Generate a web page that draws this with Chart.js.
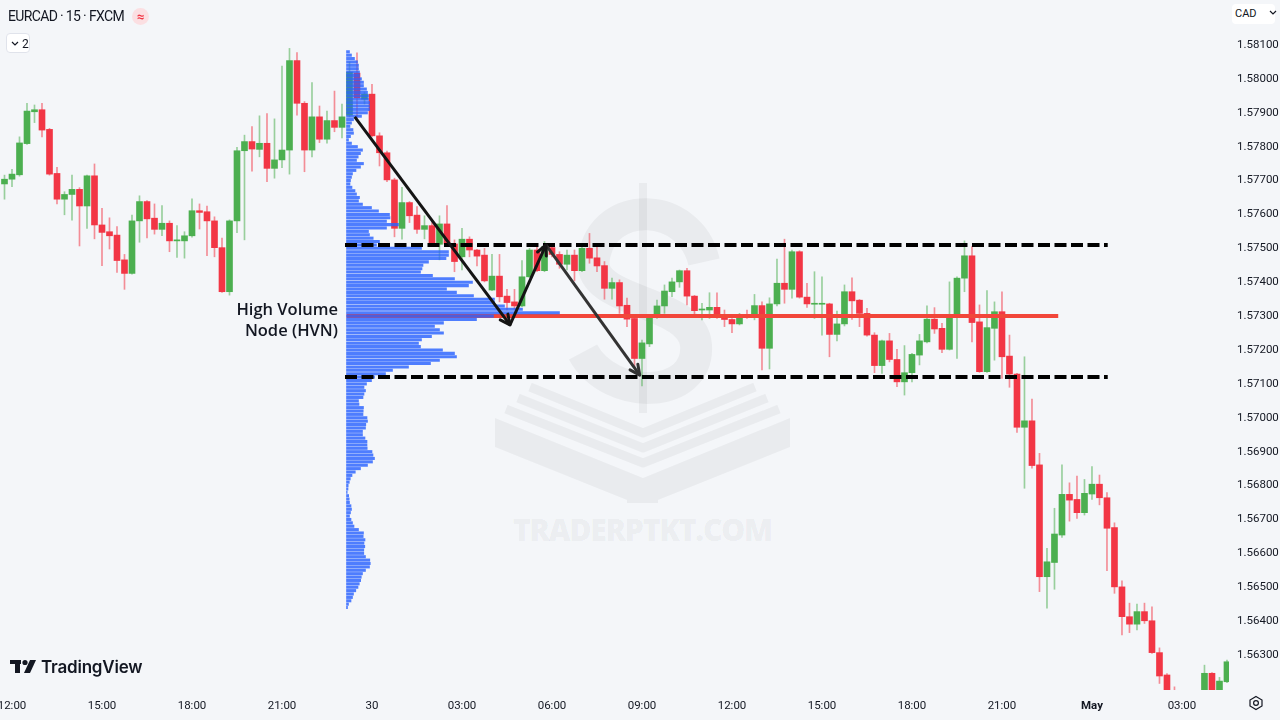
<!DOCTYPE html>
<html>
<head>
<meta charset="utf-8">
<title>EURCAD · 15 · FXCM</title>
<script src="https://cdn.jsdelivr.net/npm/chart.js@4.4.1/dist/chart.umd.min.js"></script>
<style>
  html, body { margin: 0; padding: 0; background: #f4f6f9; }
  #wrap { position: relative; width: 1280px; height: 720px; overflow: hidden; font-family: Roboto, "Noto Sans", sans-serif; color: #131722; }
  #watermark { position: absolute; left: 0; top: 0; z-index: 0; }
  #chart { position: absolute; left: 0; top: 0; z-index: 1; }
  .ov { position: absolute; z-index: 2; white-space: nowrap; }
  #title { left: 8px; top: 8px; font-size: 14px; letter-spacing: -0.65px; }
  #flag { left: 132px; top: 8px; width: 17px; height: 17px; border-radius: 50%; background: #fbdfe2; color: #f23645; font-size: 13px; font-weight: bold; text-align: center; line-height: 17px; }
  #legendBtn { left: 6px; top: 33px; width: 24px; height: 20px; border: 1px solid #e0e3eb; border-radius: 4px; background: #fff; font-size: 12px; line-height: 20px; box-sizing: border-box; padding-left: 4px; }
  #cad { left: 1232px; top: 4px; width: 43px; height: 20px; border-radius: 4px; background: #fff; font-size: 11px; line-height: 20px; padding-left: 3px; box-sizing: border-box; }
  #hvn { left: 200px; top: 298px; width: 138px; text-align: right; font-family: "Open Sans", sans-serif; font-weight: 600; font-size: 16.5px; line-height: 21px; color: #131722; }
  #tvlogo { left: 10px; top: 657px; font-family: Inter, Lato, sans-serif; font-weight: 600; font-size: 17px; letter-spacing: -0.2px; }
</style>
</head>
<body>
<div id="wrap">
  <svg id="watermark" width="1280" height="720">
    <g fill="none" stroke="rgba(0,0,0,0.045)" stroke-linejoin="round">
      <rect x="639" y="183" width="8" height="230" fill="rgba(0,0,0,0.045)" stroke="none"/>
      <path d="M 704 262 C 690 200, 603 198, 594 258 C 586 305, 692 298, 696 345 C 700 400, 610 402, 583 352" stroke-width="32"/>
      <polyline points="530,387 643,433 755,387" stroke-width="9"/>
      <polyline points="518,398 643,448 767,398" stroke-width="9"/>
      <polyline points="506,409 643,463 779,409" stroke-width="9"/>
    </g>
    <polygon points="495,418 643,478 790,418 790,447 658,500 658,503 627,503 627,500 495,447" fill="rgba(0,0,0,0.045)"/>
    <text x="643" y="541" text-anchor="middle" font-family="Open Sans, sans-serif" font-weight="800" font-size="30" textLength="260" fill="rgba(0,0,0,0.055)">TRADERPTKT.COM</text>
  </svg>
  <canvas id="chart" width="1280" height="720"></canvas>

  <div class="ov" id="title">EURCAD · 15 · FXCM</div>
  <div class="ov" id="flag">≈</div>
  <div class="ov" id="legendBtn"><svg width="8" height="6" style="vertical-align:1px"><polyline points="1,1 4,4 7,1" fill="none" stroke="#131722" stroke-width="1.2"/></svg> 2</div>
  <div class="ov" id="cad">CAD <svg width="8" height="6" style="margin-left:10px;vertical-align:1px"><polyline points="1,1 4,4 7,1" fill="none" stroke="#131722" stroke-width="1.2"/></svg></div>
  <div class="ov" id="hvn">High Volume<br>Node (HVN)</div>
  <div class="ov" id="tvlogo">
    <svg width="27" height="15" style="vertical-align:-1px;margin-right:4px">
      <rect x="0" y="1" width="11" height="4" fill="#131722"/>
      <rect x="5" y="1" width="5" height="13" fill="#131722"/>
      <circle cx="15" cy="3.5" r="2.6" fill="#131722"/>
      <polygon points="20,1 26,1 20,14 14,14" fill="#131722"/>
    </svg>TradingView
  </div>
  <svg class="ov" style="left:1248px;top:695px" width="16" height="16">
    <polygon points="8,1.5 14,5 14,11 8,14.5 2,11 2,5" fill="none" stroke="#131722" stroke-width="1.2"/>
    <circle cx="8" cy="8" r="2.4" fill="none" stroke="#131722" stroke-width="1.2"/>
  </svg>
</div>

<script>
// EURCAD 15m candles, index 0 = 29 Apr 11:45
const OPEN = [
  1.57690,1.57704,1.57717,1.57809,1.57903,1.57909,1.57851,1.57721,1.57645,1.57659,
  1.57674,1.57625,1.57714,1.57569,1.57549,1.57539,1.57466,1.57426,1.57581,1.57638,
  1.57589,1.57556,1.57574,1.57522,1.57522,1.57537,1.57611,1.57608,1.57581,1.57502,
  1.57372,1.57581,1.57788,1.57815,1.57792,1.57810,1.57736,1.57761,1.57790,1.58054,
  1.57928,1.57790,1.57888,1.57822,1.57877,1.57857,1.57893,1.58017,1.57940,1.57955,
  1.57832,1.57782,1.57702,1.57559,1.57635,1.57598,1.57556,1.57567,1.57512,1.57572,
  1.57513,1.57475,1.57527,1.57495,1.57480,1.57377,1.57418,1.57359,1.57342,1.57330,
  1.57416,1.57495,1.57434,1.57502,1.57482,1.57453,1.57480,1.57434,1.57500,1.57472,
  1.57449,1.57382,1.57399,1.57332,1.57293,1.57175,1.57218,1.57298,1.57330,1.57372,
  1.57401,1.57434,1.57359,1.57318,1.57318,1.57326,1.57303,1.57290,1.57277,1.57303,
  1.57303,1.57331,1.57205,1.57336,1.57397,1.57379,1.57490,1.57356,1.57335,1.57335,
  1.57336,1.57246,1.57277,1.57372,1.57347,1.57308,1.57244,1.57154,1.57227,1.57172,
  1.57106,1.57133,1.57185,1.57224,1.57291,1.57264,1.57202,1.57298,1.57412,1.57478,
  1.57283,1.57136,1.57264,1.57313,1.57182,1.57129,1.56972,1.56991,1.56861,1.56531,
  1.56573,1.56654,1.56774,1.56759,1.56720,1.56775,1.56804,1.56764,1.56676,1.56501,
  1.56413,1.56391,1.56428,1.56401,1.56307,1.56241,1.56190,1.56150,1.56110,1.56150,
  1.56180,1.56246,1.56185,1.56221
];
const HIGH = [
  1.57716,1.57733,1.57829,1.57928,1.57923,1.57928,1.57854,1.57739,1.57667,1.57716,
  1.57679,1.57716,1.57749,1.57618,1.57590,1.57564,1.57482,1.57598,1.57655,1.57641,
  1.57631,1.57626,1.57581,1.57567,1.57549,1.57646,1.57631,1.57625,1.57593,1.57530,
  1.57584,1.57798,1.57834,1.57859,1.57891,1.57898,1.57882,1.58038,1.58090,1.58078,
  1.57933,1.57989,1.57920,1.57905,1.57964,1.57926,1.58050,1.58077,1.57961,1.57984,
  1.57841,1.57787,1.57707,1.57680,1.57638,1.57623,1.57596,1.57576,1.57596,1.57626,
  1.57525,1.57559,1.57534,1.57497,1.57500,1.57482,1.57482,1.57379,1.57379,1.57464,
  1.57500,1.57505,1.57520,1.57504,1.57490,1.57495,1.57495,1.57505,1.57544,1.57505,
  1.57461,1.57412,1.57407,1.57353,1.57298,1.57229,1.57303,1.57347,1.57392,1.57412,
  1.57436,1.57441,1.57361,1.57338,1.57369,1.57369,1.57318,1.57293,1.57308,1.57318,
  1.57364,1.57342,1.57354,1.57468,1.57527,1.57495,1.57493,1.57397,1.57431,1.57416,
  1.57338,1.57315,1.57392,1.57413,1.57349,1.57323,1.57251,1.57229,1.57249,1.57202,
  1.57213,1.57190,1.57246,1.57330,1.57325,1.57279,1.57401,1.57416,1.57522,1.57505,
  1.57333,1.57375,1.57342,1.57372,1.57244,1.57131,1.57180,1.57055,1.56895,1.56615,
  1.56733,1.56861,1.56808,1.56828,1.56818,1.56856,1.56831,1.56779,1.56690,1.56519,
  1.56453,1.56450,1.56453,1.56442,1.56321,1.56245,1.56206,1.56170,1.56175,1.56192,
  1.56270,1.56248,1.56234,1.56285
];
const LOW = [
  1.57645,1.57682,1.57713,1.57807,1.57871,1.57829,1.57716,1.57631,1.57599,1.57583,
  1.57507,1.57559,1.57528,1.57449,1.57498,1.57429,1.57379,1.57424,1.57518,1.57531,
  1.57542,1.57537,1.57490,1.57473,1.57471,1.57533,1.57557,1.57478,1.57475,1.57370,
  1.57362,1.57546,1.57525,1.57728,1.57770,1.57697,1.57707,1.57738,1.57719,1.57893,
  1.57726,1.57770,1.57812,1.57810,1.57844,1.57826,1.57888,1.57884,1.57926,1.57829,
  1.57743,1.57697,1.57534,1.57527,1.57576,1.57544,1.57528,1.57505,1.57466,1.57505,
  1.57431,1.57436,1.57475,1.57448,1.57401,1.57375,1.57342,1.57318,1.57320,1.57328,
  1.57414,1.57431,1.57431,1.57475,1.57441,1.57436,1.57404,1.57431,1.57456,1.57431,
  1.57350,1.57350,1.57308,1.57269,1.57151,1.57094,1.57210,1.57293,1.57308,1.57357,
  1.57385,1.57333,1.57303,1.57289,1.57293,1.57293,1.57269,1.57251,1.57274,1.57293,
  1.57289,1.57141,1.57144,1.57330,1.57338,1.57353,1.57353,1.57326,1.57293,1.57244,
  1.57180,1.57227,1.57271,1.57290,1.57269,1.57241,1.57133,1.57131,1.57165,1.57092,
  1.57067,1.57106,1.57156,1.57221,1.57249,1.57192,1.57200,1.57175,1.57372,1.57224,
  1.57134,1.57134,1.57170,1.57116,1.57090,1.56957,1.56792,1.56851,1.56487,1.56438,
  1.56494,1.56647,1.56695,1.56703,1.56713,1.56759,1.56743,1.56549,1.56482,1.56359,
  1.56366,1.56374,1.56393,1.56305,1.56216,1.56170,1.56130,1.56100,1.56095,1.56130,
  1.56170,1.56165,1.56175,1.56218
];
const CLOSE = [
  1.57704,1.57719,1.57811,1.57905,1.57909,1.57849,1.57719,1.57645,1.57659,1.57674,
  1.57625,1.57714,1.57569,1.57547,1.57537,1.57464,1.57426,1.57581,1.57638,1.57587,
  1.57556,1.57574,1.57522,1.57525,1.57537,1.57611,1.57606,1.57581,1.57502,1.57372,
  1.57581,1.57788,1.57815,1.57793,1.57810,1.57736,1.57761,1.57790,1.58054,1.57928,
  1.57790,1.57888,1.57822,1.57877,1.57857,1.57888,1.58020,1.57944,1.57955,1.57832,
  1.57782,1.57702,1.57559,1.57635,1.57596,1.57556,1.57567,1.57512,1.57572,1.57513,
  1.57461,1.57527,1.57495,1.57477,1.57404,1.57418,1.57357,1.57340,1.57330,1.57416,
  1.57495,1.57434,1.57505,1.57482,1.57453,1.57480,1.57434,1.57500,1.57471,1.57448,
  1.57382,1.57399,1.57330,1.57291,1.57175,1.57221,1.57298,1.57330,1.57374,1.57401,
  1.57434,1.57359,1.57316,1.57321,1.57326,1.57303,1.57290,1.57277,1.57298,1.57297,
  1.57331,1.57205,1.57336,1.57397,1.57379,1.57490,1.57356,1.57336,1.57337,1.57336,
  1.57246,1.57277,1.57372,1.57345,1.57308,1.57244,1.57154,1.57227,1.57172,1.57106,
  1.57133,1.57187,1.57227,1.57291,1.57262,1.57202,1.57298,1.57412,1.57478,1.57281,
  1.57136,1.57266,1.57313,1.57180,1.57129,1.56972,1.56991,1.56859,1.56531,1.56575,
  1.56657,1.56774,1.56757,1.56720,1.56777,1.56804,1.56764,1.56674,1.56501,1.56413,
  1.56391,1.56428,1.56401,1.56307,1.56238,1.56185,1.56150,1.56120,1.56150,1.56185,
  1.56246,1.56180,1.56223,1.56280
];

// time axis labels (candle index -> label)
const TIME_TICK_INDEX = [1, 13, 25, 37, 49, 61, 73, 85, 97, 109, 121, 133, 145, 157];
const TIME_TICK_LABELS = ["12:00", "15:00", "18:00", "21:00", "30", "03:00", "06:00", "09:00", "12:00", "15:00", "18:00", "21:00", "May", "03:00"];
const PRICE_TICKS = [1.581, 1.580, 1.579, 1.578, 1.577, 1.576, 1.575, 1.574, 1.573, 1.572,
                     1.571, 1.570, 1.569, 1.568, 1.567, 1.566, 1.565, 1.564, 1.563];

// fixed range volume profile, rows of 0.0001 from 1.5808 downward
const PROFILE_TOP = 1.5808;
const PROFILE_ROW = 0.0001;
const PROFILE_START = 45.6;     // candle index where the range starts
const VOLUME_PER_CANDLE = 75;   // volume that spans one candle width
const PROFILE_VOLUME = [
  30,50,80,110,120,120,130,130,150,170,
  170,200,210,220,220,230,230,230,210,150,
  70,50,35,65,70,40,20,50,110,160,
  140,117,100,170,140,95,60,50,40,35,
  55,85,100,130,120,160,250,320,430,435,
  400,520,400,220,230,267,330,300,750,1020,
  1020,995,820,765,755,740,860,1080,1260,1220,
  1000,1100,1270,1480,1480,1580,1760,2130,1470,1300,
  970,880,930,970,850,750,720,740,960,1080,
  1100,930,840,620,460,390,280,250,200,175,
  190,175,165,120,125,170,167,165,205,210,
  193,190,160,160,185,205,205,207,255,265,
  280,260,210,140,88,55,38,28,17,15,
  7,22,27,30,45,50,40,30,45,60,
  75,120,170,167,185,175,183,173,173,190,
  233,238,230,190,160,148,142,128,115,93,
  70,60,45,20,10
];

// drawn levels and swing path
const HVN_LEVEL = 1.5730;
const RANGE_HIGH = 1.5751;
const RANGE_LOW = 1.5712;
const RANGE_FROM = 45.4;
const RANGE_TO = 147.1;
const HVN_TO = 140.5;
const SWING_POINTS = [
  { x: 46.7, y: 1.57888 },
  { x: 67.4, y: 1.57274 },
  { x: 72.2, y: 1.57510 },
  { x: 84.7, y: 1.57126 }
];
const SWING_COLORS = ["#141414", "#141414", "#333333"];

const X_MIN = -0.6, X_MAX = 163.27;
const Y_MIN = 1.561967, Y_MAX = 1.582328;

const UP = "#4caf50", DOWN = "#f23645";
const UP_WICK = "rgba(76,175,80,0.55)", DOWN_WICK = "rgba(242,54,69,0.55)";

const isUp = OPEN.map((o, i) => CLOSE[i] >= o);

// arrow heads at the end of the swing segments
const arrowHeads = {
    id: "arrowHeads",
    afterDatasetsDraw(chart) {
        const ctx = chart.ctx;
        chart.data.datasets.forEach((ds, di) => {
            if (!ds.arrowHead) return;
            const pts = chart.getDatasetMeta(di).data;
            const a = pts[pts.length - 2], b = pts[pts.length - 1];
            const ang = Math.atan2(b.y - a.y, b.x - a.x);
            ctx.save();
            ctx.strokeStyle = ds.borderColor;
            ctx.lineWidth = ds.borderWidth;
            ctx.lineCap = "round";
            ctx.lineJoin = "round";
            ctx.beginPath();
            ctx.moveTo(b.x - 11 * Math.cos(ang - 0.45), b.y - 11 * Math.sin(ang - 0.45));
            ctx.lineTo(b.x, b.y);
            ctx.lineTo(b.x - 11 * Math.cos(ang + 0.45), b.y - 11 * Math.sin(ang + 0.45));
            ctx.stroke();
            ctx.restore();
        });
    }
};

const datasets = [];

// wicks
datasets.push({
    type: "bar",
    data: OPEN.map((o, i) => ({ x: i, y: [LOW[i], HIGH[i]] })),
    backgroundColor: isUp.map(u => u ? UP_WICK : DOWN_WICK),
    barThickness: 1,
    grouped: false,
    xAxisID: "x", yAxisID: "y",
    order: 6
});

// bodies
datasets.push({
    type: "bar",
    data: OPEN.map((o, i) => ({ x: i, y: [o, CLOSE[i]] })),
    backgroundColor: isUp.map(u => u ? UP : DOWN),
    barThickness: 6,
    minBarLength: 1,
    grouped: false,
    xAxisID: "x", yAxisID: "y",
    order: 5
});

// HVN line
datasets.push({
    type: "line",
    data: [{ x: PROFILE_START, y: HVN_LEVEL }, { x: HVN_TO, y: HVN_LEVEL }],
    borderColor: "#f2463a",
    borderWidth: 4,
    pointRadius: 0,
    xAxisID: "x", yAxisID: "y",
    order: 4
});

// volume profile (horizontal bars)
datasets.push({
    type: "bar",
    indexAxis: "y",
    data: PROFILE_VOLUME.map((v, k) => ({
        y: PROFILE_TOP - k * PROFILE_ROW,
        x: [PROFILE_START, PROFILE_START + v / VOLUME_PER_CANDLE]
    })),
    backgroundColor: "rgba(41,98,255,0.82)",
    barThickness: 2.4,
    grouped: false,
    xAxisID: "xv", yAxisID: "yv",
    order: 3
});

// range lines
[RANGE_HIGH, RANGE_LOW].forEach(level => {
    datasets.push({
        type: "line",
        data: [{ x: RANGE_FROM, y: level }, { x: RANGE_TO, y: level }],
        borderColor: "#000000",
        borderWidth: 4,
        borderDash: [12, 4.5],
        pointRadius: 0,
        xAxisID: "x", yAxisID: "y",
        order: 2
    });
});

// swing arrows
for (let s = 0; s < SWING_POINTS.length - 1; s++) {
    datasets.push({
        type: "line",
        data: [SWING_POINTS[s], SWING_POINTS[s + 1]],
        borderColor: SWING_COLORS[s],
        borderWidth: 3,
        pointRadius: 0,
        arrowHead: true,
        xAxisID: "x", yAxisID: "y",
        order: 1
    });
}

const tickFont = { family: "Roboto", size: 11.5 };

new Chart(document.getElementById("chart"), {
    type: "bar",
    data: { datasets: datasets },
    options: {
        responsive: false,
        animation: false,
        events: [],
        layout: { padding: 0 },
        plugins: { legend: { display: false }, tooltip: { enabled: false } },
        scales: {
            x: {
                type: "linear", position: "bottom", offset: false,
                min: X_MIN, max: X_MAX,
                grid: { display: false, drawTicks: false }, border: { display: false },
                afterBuildTicks: s => { s.ticks = TIME_TICK_INDEX.map(v => ({ value: v })); },
                afterFit: s => { s.height = 30; s.paddingLeft = 0; s.paddingRight = 0; },
                ticks: {
                    autoSkip: false, maxRotation: 0, padding: 9, color: "#131722",
                    font: c => ({ family: "Roboto", size: 11.5, weight: TIME_TICK_LABELS[c.index] === "May" ? "bold" : "normal" }),
                    callback: v => TIME_TICK_LABELS[TIME_TICK_INDEX.indexOf(v)]
                }
            },
            y: {
                type: "linear", position: "right", offset: false, beginAtZero: false,
                min: Y_MIN, max: Y_MAX,
                grid: { display: false, drawTicks: false }, border: { display: false },
                afterBuildTicks: s => { s.ticks = PRICE_TICKS.map(v => ({ value: v })); },
                afterFit: s => { s.width = 51; s.paddingTop = 0; s.paddingBottom = 0; },
                ticks: {
                    padding: 8, crossAlign: "near", color: "#131722", font: tickFont,
                    callback: v => v.toFixed(5)
                }
            },
            xv: {
                type: "linear", axis: "x", position: "bottom", display: false, offset: false,
                min: X_MIN, max: X_MAX
            },
            yv: {
                type: "linear", axis: "y", position: "right", display: false, offset: false, beginAtZero: false,
                min: Y_MIN, max: Y_MAX
            }
        }
    },
    plugins: [arrowHeads]
});
</script>
</body>
</html>
